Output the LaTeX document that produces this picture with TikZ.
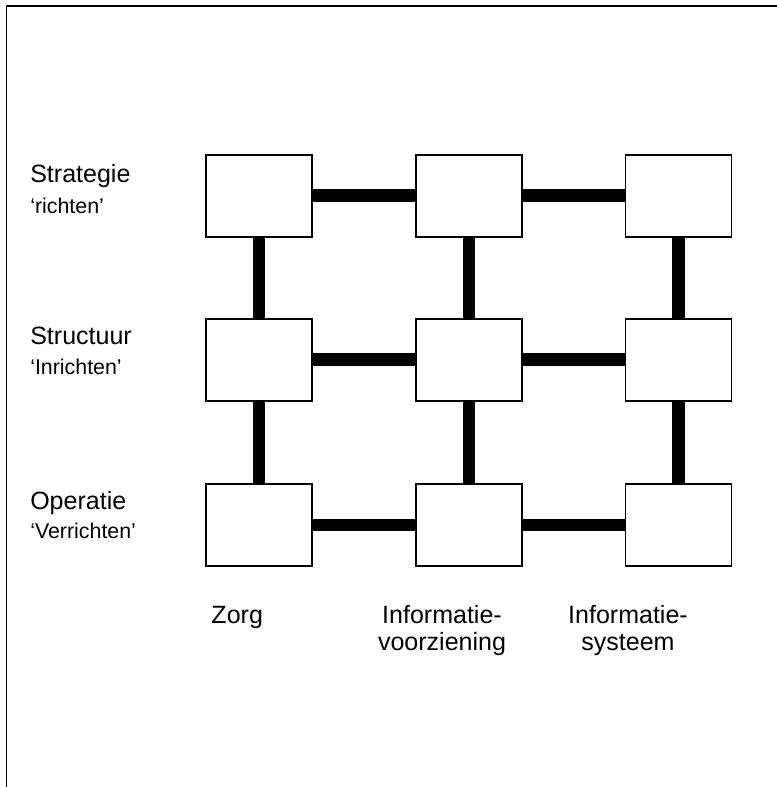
\documentclass[tikz,border=0pt]{standalone}
\usepackage{fontspec}
\setmainfont{Liberation Sans}
\begin{document}
\begin{tikzpicture}[
    box/.style={rectangle, draw, line width=1.3pt, fill=white, minimum width=2.65cm, minimum height=2.05cm, inner sep=0pt},
    link/.style={line width=9pt},
    lbl/.style={inner sep=0pt, font=\fontsize{17.8}{19}\selectfont},
    sublbl/.style={inner sep=0pt, font=\fontsize{15.2}{17}\selectfont},
    collbl/.style={inner sep=0pt, align=center, font=\fontsize{17.8}{19}\selectfont}
]
\useasboundingbox (0,0) rectangle (19.425,-19.675);

% open frame, top and left only
\draw[line width=1.4pt] (0.1625,-19.675) -- (0.1625,-0.15) -- (19.425,-0.15);

% Row 1: Strategie
\node[box] (r1) at (6.475, -4.89) {};
\node[box] (r2) at (11.725, -4.89) {};
\node[box] (r3) at (16.9625, -4.89) {};

% Row 2: Structuur
\node[box] (i1) at (6.475, -8.99) {};
\node[box] (i2) at (11.725, -8.99) {};
\node[box] (i3) at (16.9625, -8.99) {};

% Row 3: Operatie
\node[box] (v1) at (6.475, -13.125) {};
\node[box] (v2) at (11.725, -13.125) {};
\node[box] (v3) at (16.9625, -13.125) {};

% Links
\draw[link] (r1) -- (r2);
\draw[link] (r2) -- (r3);
\draw[link] (i1) -- (i2);
\draw[link] (i2) -- (i3);
\draw[link] (v1) -- (v2);
\draw[link] (v2) -- (v3);
\draw[link] (r1) -- (i1);
\draw[link] (i1) -- (v1);
\draw[link] (r2) -- (i2);
\draw[link] (i2) -- (v2);
\draw[link] (r3) -- (i3);
\draw[link] (i3) -- (v3);

% Row labels
\node[lbl, anchor=base west] (strat) at (0.75, -4.55) {Strategie};
\node[sublbl, anchor=base west] (richt) at ([yshift=-0.775cm]strat.base west) {‘richten’};
\node[lbl, anchor=base west] (struc) at (0.75, -8.6) {Structuur};
\node[sublbl, anchor=base west] (inricht) at ([yshift=-0.75cm]struc.base west) {‘Inrichten’};
\node[lbl, anchor=base west] (oper) at (0.75, -12.73) {Operatie};
\node[sublbl, anchor=base west] (verricht) at ([yshift=-0.72cm]oper.base west) {‘Verrichten’};

% Column labels (base sits on the second line)
\node[lbl, anchor=base west] (zorg) at (5.28, -15.58) {Zorg};
\node[collbl, anchor=base] (ivz) at (11.05, -16.25) {Informatie-\\voorziening};
\node[collbl, anchor=base] (isys) at (15.7, -16.25) {Informatie-\\systeem};

\end{tikzpicture}
\end{document}
